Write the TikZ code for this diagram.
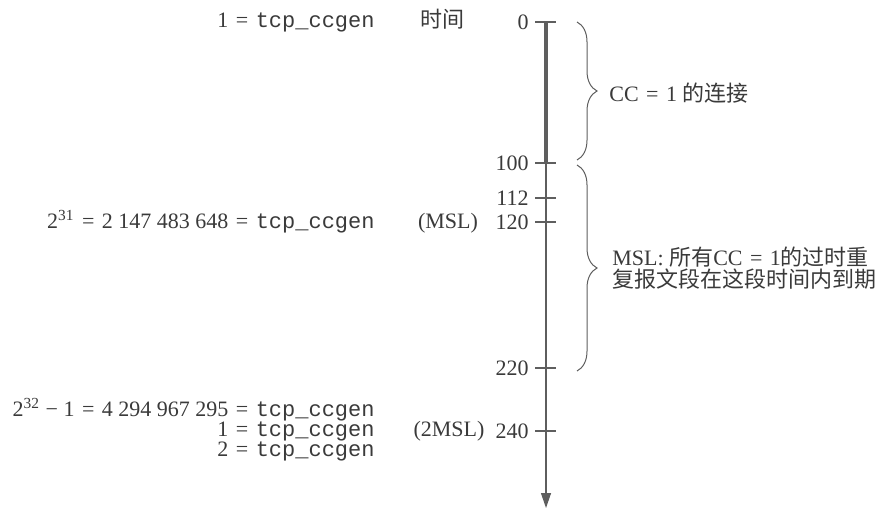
\documentclass[tikz,border=0pt]{standalone}
\usepackage{fontspec}
\setmainfont{Liberation Serif}
\setmonofont{Liberation Mono}
\newfontfamily\cjk{Noto Sans CJK SC}
\usepackage{tikz}
\usetikzlibrary{arrows.meta,decorations.pathreplacing}
\definecolor{inkgray}{HTML}{3A3A3A}
\definecolor{linegray}{HTML}{5E5E5E}
\newcommand{\ccgen}{\texttt{tcp\_ccgen}}
\newcommand{\eqs}{\hspace{0.34em}=\hspace{0.34em}}

\begin{document}
\begin{tikzpicture}[x=0.5pt,y=-0.5pt,
  every node/.style={text=inkgray,font=\fontsize{11}{13}\selectfont,inner sep=0pt},
  tickmark/.style={linegray,line width=0.6pt},
  ticklabel/.style={anchor=east},
  rowlabel/.style={anchor=base east},
  tag/.style={anchor=base},
  bracepath/.style={linegray,line width=0.5pt,decorate,decoration={brace,amplitude=10pt}}]

\useasboundingbox (0,0) rectangle (881,509);

% time axis
\coordinate (top) at (546,22);
\coordinate (cut) at (546,163);
\coordinate (bottom) at (546,508);
\draw[linegray,line width=0.6pt,-{Triangle[length=7.5pt,width=5pt]}] (cut) -- (bottom);
\draw[linegray,line width=2pt] (top) -- (cut);

\foreach \v/\y in {0/22,100/163,112/198,120/222,220/368,240/431}
{
  \draw[tickmark] (535,\y) -- (556,\y);
  \node[ticklabel] (t\v) at (529,\y) {\v};
}

% braces
\draw[bracepath] (577,22) -- (577,160);
\draw[bracepath] (577,165) -- (577,371);

\node[anchor=west] (cclabel) at (609,93) {CC\eqs 1 {\cjk 的连接}};
\node[anchor=west,align=left,font=\fontsize{11}{11}\selectfont] (msllabel) at (612,268)
  {MSL: {\cjk 所有}CC\eqs 1{\cjk 的过时重}\\{\cjk 复报文段在这段时间内到期}};

% generator values
\node[rowlabel] (gen0) at (375,27) {1\eqs\ccgen};
\node[tag] (timetag) at (442,27) {\cjk 时间};
\node[rowlabel] (genhalf) at (375,228.5) {2\textsuperscript{31}\eqs 2\ 147\ 483\ 648\eqs\ccgen};
\node[tag] (msltag) at (448,228.5) {(MSL)};
\node[rowlabel] (genmax) at (375,416.5) {2\textsuperscript{32} − 1\eqs 4\ 294\ 967\ 295\eqs\ccgen};
\node[rowlabel] (genone) at (375,436.5) {1\eqs\ccgen};
\node[rowlabel] (gentwo) at (375,456.5) {2\eqs\ccgen};
\node[tag] (dmsltag) at (449,436.5) {(2MSL)};

\end{tikzpicture}
\end{document}
